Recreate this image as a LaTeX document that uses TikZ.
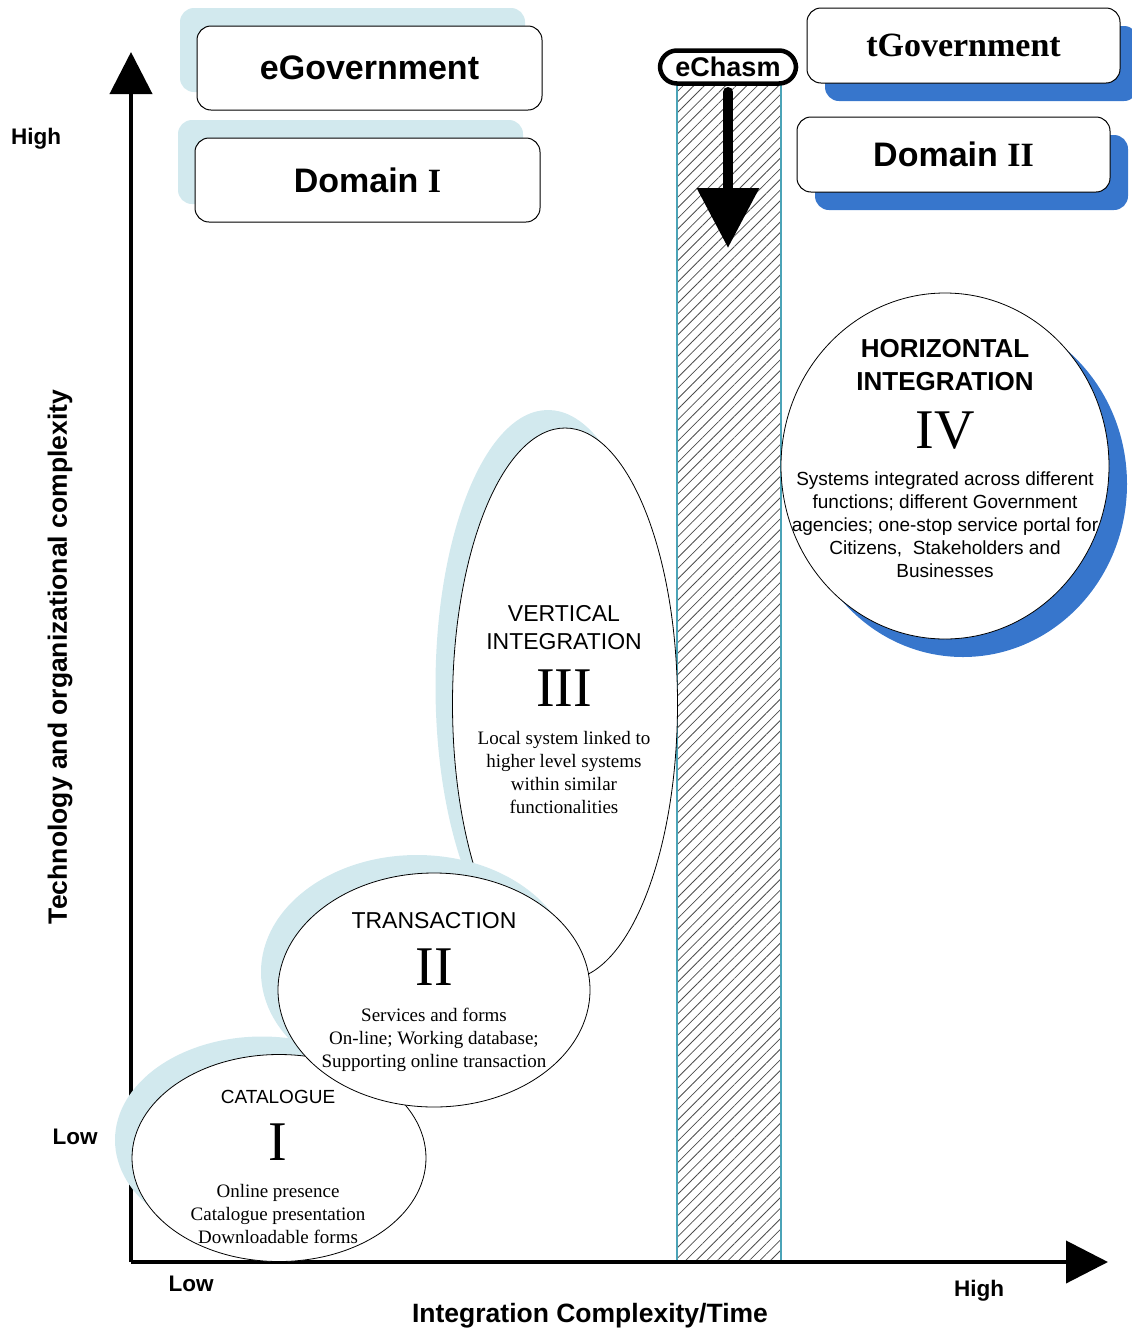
\documentclass[tikz,border=0pt]{standalone}
\usepackage{fontspec}
\setmainfont{Liberation Serif}
\setsansfont{Liberation Sans}
\usetikzlibrary{shapes.geometric, shadows, patterns.meta, arrows.meta}
\definecolor{paleblue}{RGB}{210,233,238}
\definecolor{deepblue}{RGB}{55,118,204}
\definecolor{chasmteal}{RGB}{75,163,183}

\tikzset{
	govbox/.style={draw, line width=1pt, fill=white, rounded corners=14pt, inner sep=0pt, font=\sffamily\bfseries\fontsize{34}{40}\selectfont},
	paleshadow/.style={drop shadow={shadow xshift=-17pt, shadow yshift=18pt, fill=paleblue, opacity=1}},
	blueshadow/.style={drop shadow={shadow xshift=18pt, shadow yshift=-18pt, fill=deepblue, opacity=1}},
	stage/.style={draw, ellipse, line width=0.8pt, fill=white, inner sep=0pt},
	stagehead/.style={font=\sffamily\fontsize{23}{28}\selectfont, align=center, inner sep=0pt},
	numeral/.style={font=\fontsize{56}{60}\selectfont, inner sep=0pt},
	stagetext/.style={font=\fontsize{19}{23}\selectfont, align=center, inner sep=0pt},
	axis/.style={line width=4pt, -{Triangle[width=42pt,length=42pt]}},
	axislabel/.style={font=\sffamily\bfseries\fontsize{22.5}{27}\selectfont},
	axistitle/.style={font=\sffamily\bfseries\fontsize{26.5}{32}\selectfont},
}

\begin{document}
\begin{tikzpicture}[x=1pt, y=-1pt]
	\useasboundingbox (0,0) rectangle (1132,1331);
	% the eChasm bar
	\node[draw=chasmteal, line width=2pt, minimum width=104pt, minimum height=1177pt, inner sep=0pt,
		pattern={Lines[angle=45, distance=7.5pt, line width=0.8pt]}, pattern color=black!70] (chasmbar) at (729,673.5) {};
	% axes
	\coordinate (origin) at (131,1262);
	\coordinate (ytop) at (131,52);
	\coordinate (xend) at (1108,1262);
	\draw[axis] (origin) -- (ytop);
	\draw[axis] (origin) -- (xend);
	\node[axislabel] (yhigh) at (36,139) {High};
	\node[axislabel] (ylow) at (75,1137) {Low};
	\node[axislabel] (xlow) at (191,1284) {Low};
	\node[axislabel] (xhigh) at (979,1291) {High};
	\node[axistitle] (xtitle) at (590,1316) {Integration Complexity/Time};
	\node[axistitle, rotate=90] (ytitle) at (60,657) {Technology and organizational complexity};

	% stage III
	\node[stage, paleshadow, minimum width=225pt, minimum height=552pt] (vert) at (565,704) {};
	\node[stagehead] (verthead) at (564,628) {VERTICAL\\INTEGRATION};
	\node[numeral] (vertnum) at (564,688) {III};
	\node[stagetext] (verttext) at (564,772) {Local system linked to\\higher level systems\\within similar\\functionalities};
	% stage I
	\node[stage, paleshadow, minimum width=294pt, minimum height=207pt] (cat) at (279,1158) {};
	\node[stagehead, font=\sffamily\fontsize{19}{23}\selectfont] (cathead) at (278,1097) {CATALOGUE};
	\node[numeral] (catnum) at (278,1142) {I};
	\node[stagetext] (cattext) at (278,1214) {Online presence\\Catalogue presentation\\Downloadable forms};
	% stage II
	\node[stage, paleshadow, minimum width=312pt, minimum height=234pt] (trans) at (434,990) {};
	\node[stagehead] (transhead) at (434,921) {TRANSACTION};
	\node[numeral] (transnum) at (434,967) {II};
	\node[stagetext] (transtext) at (434,1040) {Services and forms\\On-line; Working database;\\Supporting online transaction};
	% stage IV
	\node[stage, blueshadow, minimum width=328pt, minimum height=346pt] (horiz) at (945,466) {};
	\node[stagehead, font=\sffamily\bfseries\fontsize{26}{33}\selectfont] (horizhead) at (945,365) {HORIZONTAL\\INTEGRATION};
	\node[numeral] (horiznum) at (945,431) {IV};
	\node[stagetext, font=\sffamily\fontsize{19}{23}\selectfont] (horiztext) at (945,525) {Systems integrated across different\\functions; different Government\\agencies; one-stop service portal for\\Citizens,~ Stakeholders and\\Businesses};

	% domain boxes
	\node[govbox, paleshadow, minimum width=345pt, minimum height=84pt] (egov) at (369.5,68) {eGovernment};
	\node[govbox, paleshadow, minimum width=345pt, minimum height=84pt] (domi) at (367.5,180) {Domain {\rmfamily I}};
	\node[govbox, blueshadow, minimum width=313pt, minimum height=75pt, font=\rmfamily\bfseries\fontsize{34}{40}\selectfont] (tgov) at (963.5,45.5) {tGovernment};
	\node[govbox, blueshadow, minimum width=313pt, minimum height=75pt] (domii) at (953.5,154.5) {Domain {\rmfamily II}};

	% eChasm label and arrow
	\coordinate (chasmtip) at (728,248);
	\draw[line width=10pt, line cap=round, shorten <=7pt, -{Triangle[width=60pt,length=60pt]}] (728,85) -- (chasmtip);
	\node[draw, line width=4.5pt, fill=white, rounded corners=17pt, minimum width=136pt, minimum height=33pt, inner sep=0pt,
		font=\sffamily\bfseries\fontsize{27}{30}\selectfont] (echasm) at (728,67) {eChasm};
\end{tikzpicture}
\end{document}
